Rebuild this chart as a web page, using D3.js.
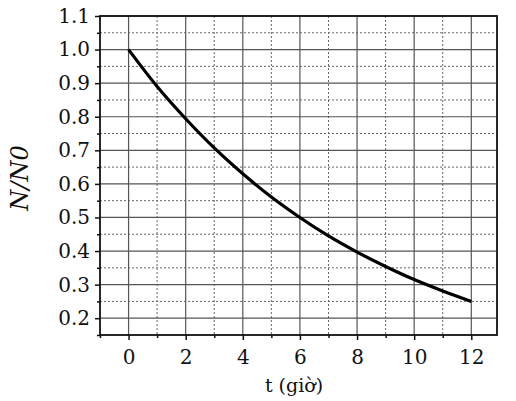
<!DOCTYPE html>
<html>
<head>
<meta charset="utf-8">
<script src="https://cdn.jsdelivr.net/npm/d3@7"></script>
<style>
  body { margin: 0; background: #fff; }
</style>
</head>
<body>
<div id="grafico"></div>
<script>
// values
var tiempos = [0, 1, 2, 3, 4, 5, 6, 7, 8, 9, 10, 11, 12];
var razon = [1.0, 0.89, 0.794, 0.707, 0.63, 0.561, 0.5, 0.445, 0.397, 0.354, 0.315, 0.281, 0.25];
var xTicks = [0, 2, 4, 6, 8, 10, 12];
var yTicks = [0.2, 0.3, 0.4, 0.5, 0.6, 0.7, 0.8, 0.9, 1.0, 1.1];
var xMenores = [-1, 1, 3, 5, 7, 9, 11];
var yMenores = [0.15, 0.25, 0.35, 0.45, 0.55, 0.65, 0.75, 0.85, 0.95, 1.05];

var fuente = "'DejaVu Serif', serif";

var ancho = 516, alto = 401;
var margen = { superior: 16, derecho: 19, inferior: 66, izquierdo: 100 };
var w = ancho - margen.izquierdo - margen.derecho;
var h = alto - margen.superior - margen.inferior;

var svg = d3.select("#grafico").append("svg")
    .attr("width", ancho)
    .attr("height", alto);

var g = svg.append("g")
    .attr("transform", "translate(" + margen.izquierdo + "," + margen.superior + ")");

var x = d3.scaleLinear().domain([-1, 12.9]).range([0, w]);
var y = d3.scaleLinear().domain([0.15, 1.1]).range([h, 0]);

// minor dotted grid
g.selectAll(".gx-menor").data(xMenores.filter(function (d) { return d > -1; }))
  .enter().append("line")
    .attr("x1", function (d) { return x(d); }).attr("x2", function (d) { return x(d); })
    .attr("y1", 0).attr("y2", h)
    .style("stroke", "#666").style("stroke-width", 1).style("stroke-dasharray", "2,2");
g.selectAll(".gy-menor").data(yMenores.filter(function (d) { return d > 0.15; }))
  .enter().append("line")
    .attr("y1", function (d) { return y(d); }).attr("y2", function (d) { return y(d); })
    .attr("x1", 0).attr("x2", w)
    .style("stroke", "#666").style("stroke-width", 1).style("stroke-dasharray", "2,2");

// major solid grid
var xMayores = d3.range(0, 13, 2);
g.selectAll(".gx").data(xMayores)
  .enter().append("line")
    .attr("x1", function (d) { return x(d); }).attr("x2", function (d) { return x(d); })
    .attr("y1", 0).attr("y2", h)
    .style("stroke", "#555").style("stroke-width", 1.2);
g.selectAll(".gy").data(yTicks)
  .enter().append("line")
    .attr("y1", function (d) { return y(d); }).attr("y2", function (d) { return y(d); })
    .attr("x1", 0).attr("x2", w)
    .style("stroke", "#555").style("stroke-width", 1.2);

// axes
var ejeX = g.append("g")
    .attr("transform", "translate(0," + h + ")")
    .call(d3.axisBottom(x).tickValues(xTicks).tickSize(5).tickPadding(10).tickFormat(d3.format("d")));
var ejeXm = g.append("g")
    .attr("transform", "translate(0," + h + ")")
    .call(d3.axisBottom(x).tickValues(xMenores).tickSize(3).tickFormat(""));
var ejeY = g.append("g")
    .call(d3.axisLeft(y).tickValues(yTicks).tickSize(5).tickPadding(5).tickFormat(d3.format(".1f")));
var ejeYm = g.append("g")
    .call(d3.axisLeft(y).tickValues(yMenores).tickSize(3).tickFormat(""));

[ejeX, ejeXm, ejeY, ejeYm].forEach(function (e) {
  e.attr("font-family", fuente).attr("font-size", 20);
  e.select(".domain").remove();
  e.selectAll(".tick line").style("stroke", "#111").style("stroke-width", 1.5);
  e.selectAll("text").attr("fill", "#111");
});

// frame
g.append("rect")
    .attr("x", 0).attr("y", 0).attr("width", w).attr("height", h)
    .style("fill", "none").style("stroke", "#111").style("stroke-width", 1.8);

// curve
var linea = d3.line()
    .x(function (d, i) { return x(tiempos[i]); })
    .y(function (d) { return y(d); })
    .curve(d3.curveMonotoneX);

g.append("path")
    .datum(razon)
    .attr("d", linea)
    .style("fill", "none")
    .style("stroke", "#000")
    .style("stroke-width", 3.2);

// labels
svg.append("text")
    .attr("transform", "translate(28,178) rotate(-90)")
    .attr("text-anchor", "middle")
    .attr("font-family", fuente)
    .attr("font-size", 24)
    .attr("font-style", "italic")
    .attr("fill", "#111")
    .text("N/N0");

svg.append("text")
    .attr("x", 294).attr("y", 392)
    .attr("text-anchor", "middle")
    .attr("font-family", fuente)
    .attr("font-size", 19)
    .attr("fill", "#111")
    .text("t (giờ)");
</script>
</body>
</html>
